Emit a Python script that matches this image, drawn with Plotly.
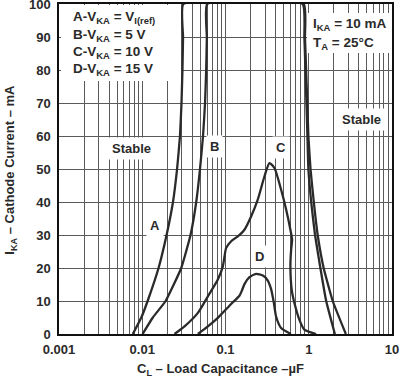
import numpy as np
import plotly.graph_objects as go

# ---- data ----
curve_a_x = [0.0077, 0.00975, 0.0116, 0.0157, 0.0196, 0.0234, 0.0262, 0.0284, 0.0296, 0.0304, 0.0309, 0.0312]
curve_a_y = [0, 5, 10, 20, 30, 40, 50, 60, 70, 80, 90, 100]

curve_b_x = [0.0101, 0.0134, 0.0191, 0.0294, 0.038, 0.0445, 0.0494, 0.0537, 0.0568, 0.0586, 0.0597, 0.0603]
curve_b_y = [0, 5, 10, 20, 30, 40, 50, 60, 70, 80, 90, 100]

right_outer_x = [0.87, 0.90, 0.93, 0.96, 0.99, 1.05, 1.15, 1.28, 1.51, 1.94, 2.79]
right_outer_y = [100, 90, 80, 70, 60, 50, 40, 30, 20, 10, 0]

right_inner_x = [0.845, 0.887, 0.912, 0.938, 0.964, 0.99, 1.07, 1.19, 1.38, 1.62, 2.06]
right_inner_y = [100, 90, 80, 70, 60, 50, 40, 30, 20, 10, 0]

curve_c_x = [0.0244, 0.0322, 0.0466, 0.0614, 0.0809, 0.0929, 0.0973, 0.1019, 0.117, 0.1405,
             0.169, 0.203, 0.244, 0.294, 0.337, 0.387, 0.466, 0.535, 0.602, 0.631, 0.614,
             0.602, 0.624, 0.673, 0.773, 0.887, 1.225]
curve_c_y = [0, 2.3, 6.4, 11.4, 16.5, 20.5, 23.5, 26.1, 28.1, 29.6,
             31.6, 35.6, 40.7, 47.8, 51.8, 50.3, 43.7, 37.7, 31.6, 28.6, 25.5,
             20.5, 13.4, 9.4, 4.3, 1.3, 0]

curve_d_x = [0.0466, 0.0614, 0.0809, 0.117, 0.147, 0.157, 0.169, 0.194, 0.233, 0.281,
             0.322, 0.353, 0.38, 0.405, 0.466, 0.61]
curve_d_y = [0, 2.3, 4.9, 9.1, 11.6, 13.1, 15.1, 17.2, 18.2, 17.7,
             16.2, 13.6, 9.6, 5.3, 1.8, 0]

x_tick_vals = [0.001, 0.01, 0.1, 1, 10]
x_tick_text = ["0.001", "0.01", "0.1", "1", "10"]
y_tick_vals = [0, 10, 20, 30, 40, 50, 60, 70, 80, 90, 100]

curve_labels = ["Stable", "Stable", "A", "B", "C", "D"]
label_x = [0.00739, 4.25, 0.01426, 0.0738, 0.466, 0.256]
label_y = [56.2, 64.9, 33, 56.8, 56.4, 23.5]

legend_lines = ["A-V<sub>KA</sub> = V<sub>I(ref)</sub>",
                "B-V<sub>KA</sub> = 5 V",
                "C-V<sub>KA</sub> = 10 V",
                "D-V<sub>KA</sub> = 15 V"]
cond_lines = ["I<sub>KA</sub> = 10 mA", "T<sub>A</sub> = 25°C"]

FONT = "Liberation Sans, Arial, sans-serif"
LINE = dict(color="#2a2a2a", width=2.3)
GRID = "#5a5a5a"
TXT = "#2a2a2a"

fig = go.Figure()

fig.add_trace(go.Scatter(x=curve_a_x + right_outer_x, y=curve_a_y + right_outer_y,
                         mode="lines", line=dict(shape="spline", smoothing=0.4, **LINE),
                         hoverinfo="skip", showlegend=False))
fig.add_trace(go.Scatter(x=curve_b_x + right_inner_x, y=curve_b_y + right_inner_y,
                         mode="lines", line=dict(shape="spline", smoothing=0.4, **LINE),
                         hoverinfo="skip", showlegend=False))
fig.add_trace(go.Scatter(x=curve_c_x, y=curve_c_y, mode="lines",
                         line=dict(shape="spline", smoothing=0.6, **LINE),
                         hoverinfo="skip", showlegend=False))
fig.add_trace(go.Scatter(x=curve_d_x, y=curve_d_y, mode="lines",
                         line=dict(shape="spline", smoothing=0.6, **LINE),
                         hoverinfo="skip", showlegend=False))

minor_vals = [m * 10.0 ** e for e in range(-3, 1) for m in range(2, 10)]

fig.update_xaxes(type="log", range=[-3, 1], tickvals=x_tick_vals, ticktext=x_tick_text,
                 showgrid=True, gridcolor=GRID, gridwidth=1,
                 minor=dict(tickmode="array", tickvals=minor_vals, showgrid=True,
                            gridcolor=GRID, gridwidth=1, ticks=""),
                 showline=True, linecolor="#111", linewidth=1.5, mirror=True,
                 ticks="", ticklabelstandoff=3, ticklabeloverflow="allow",
                 tickfont=dict(family=FONT, size=13, color=TXT, weight="bold"),
                 zeroline=False, fixedrange=True)
fig.update_yaxes(range=[0, 100], tickvals=y_tick_vals,
                 showgrid=True, gridcolor=GRID, gridwidth=1,
                 showline=True, linecolor="#111", linewidth=1.5, mirror=True,
                 ticks="", ticklabelstandoff=4, ticklabeloverflow="allow",
                 tickfont=dict(family=FONT, size=13, color=TXT, weight="bold"),
                 zeroline=False, fixedrange=True)

W, H, L, T = 333.0, 330.0, 59.0, 4.3


def px_to_paper(px, py):
    return (px - L) / W, (T + H - py) / H


annotations = []
# white boxes behind the two text blocks (hide grid lines)
for (x0, y0, x1, y1) in [(60.5, 5.2, 180.5, 81.5), (306.5, 13.5, 391.5, 53.0)]:
    cx, cy = px_to_paper((x0 + x1) / 2, (y0 + y1) / 2)
    annotations.append(dict(x=cx, y=cy, xref="paper", yref="paper", text=" ", showarrow=False,
                            xanchor="center", yanchor="middle", width=x1 - x0, height=y1 - y0,
                            bgcolor="white", borderpad=0, borderwidth=0))

for t, lx, ly in zip(curve_labels, label_x, label_y):
    annotations.append(dict(x=np.log10(lx), y=ly, xref="x", yref="y", text=t, showarrow=False,
                            font=dict(family=FONT, size=13, color=TXT, weight="bold"),
                            bgcolor="white", borderpad=3))
for i, t in enumerate(legend_lines):
    ax, ay = px_to_paper(71, 18 + 17.4 * i)
    annotations.append(dict(x=ax, y=ay, xref="paper", yref="paper",
                            text=t, showarrow=False, xanchor="left", yanchor="middle",
                            font=dict(family=FONT, size=13.5, color=TXT, weight="bold")))
for i, t in enumerate(cond_lines):
    ax, ay = px_to_paper(311, 25 + 18.5 * i)
    annotations.append(dict(x=ax, y=ay, xref="paper", yref="paper",
                            text=t, showarrow=False, xanchor="left", yanchor="middle",
                            font=dict(family=FONT, size=13.5, color=TXT, weight="bold")))
ax, ay = px_to_paper(220, 370)
annotations.append(dict(x=ax, y=ay, xref="paper", yref="paper",
                        text="C<sub>L</sub> – Load Capacitance –µF", showarrow=False,
                        xanchor="center", yanchor="middle",
                        font=dict(family=FONT, size=13, color=TXT, weight="bold")))
ax, ay = px_to_paper(11, 170)
annotations.append(dict(x=ax, y=ay, xref="paper", yref="paper",
                        text="I<sub>KA</sub> – Cathode Current – mA", showarrow=False,
                        textangle=-90, xanchor="center", yanchor="middle",
                        font=dict(family=FONT, size=13, color=TXT, weight="bold")))

fig.update_layout(width=405, height=380,
                  margin=dict(l=59, r=405 - 59 - 333, t=4.3, b=380 - 4.3 - 330, autoexpand=False),
                  paper_bgcolor="white", plot_bgcolor="white",
                  annotations=annotations, showlegend=False)

fig.write_html("out.html", config={"displayModeBar": False},
               post_script="document.body.style.margin='0';")
